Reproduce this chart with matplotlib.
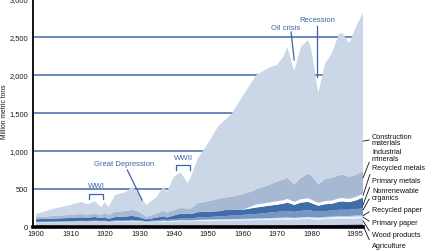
# Materials consumption in the US, 1900-1995 (stacked area)

import numpy as np
import matplotlib
matplotlib.use('Agg')
import matplotlib.pyplot as plt

plt.rcParams['font.family'] = ['Liberation Sans', 'DejaVu Sans']

# Data (million metric tons)
years = [1900, 1905, 1910, 1913, 1915, 1917, 1919, 1920, 1921, 1923, 1926, 1928,
         1930, 1932, 1935, 1937, 1938, 1940, 1942, 1944, 1945, 1947, 1950, 1953,
         1955, 1957, 1960, 1964, 1968, 1970, 1972, 1973, 1975, 1977, 1979, 1980,
         1982, 1984, 1986, 1988, 1989, 1991, 1993, 1995]

agriculture = [6, 6, 7, 7, 7, 8, 8, 8, 7, 8, 9, 9, 9, 8, 9, 10, 10, 10,
               11, 11, 11, 12, 13, 14, 15, 15, 16, 18, 20, 21, 22, 22, 22, 24, 26, 26,
               26, 28, 29, 32, 33, 34, 35, 36]
wood_products = [54, 57, 59, 61, 60, 61, 58, 60, 56, 62, 63, 64, 60, 53, 58, 62, 60, 64,
                 67, 65, 66, 69, 71, 71, 71, 72, 72, 74, 75, 76, 78, 79, 76, 79, 80, 78,
                 74, 77, 78, 80, 79, 77, 78, 80]
primary_paper = [3, 3, 4, 4, 4, 5, 5, 5, 4, 5, 5, 6, 6, 5, 6, 7, 6, 7, 8, 8, 8, 9, 10, 11,
                 12, 12, 13, 14, 16, 17, 17, 18, 16, 18, 19, 19, 18, 19, 20, 22, 22, 22,
                 24, 25]
recycled_paper = [2, 2, 2, 3, 3, 3, 3, 3, 3, 3, 3, 4, 4, 3, 4, 4, 4, 4, 5, 5, 5, 5, 5, 5,
                  5, 6, 6, 6, 7, 7, 7, 8, 7, 8, 8, 8, 8, 9, 10, 11, 11, 12, 14, 15]
nonrenewable_organics = [3, 4, 5, 6, 6, 7, 7, 8, 7, 9, 10, 11, 10, 9, 12, 14, 13, 16, 20,
                         22, 22, 32, 32, 38, 42, 46, 52, 60, 72, 78, 84, 86, 78, 84, 88,
                         84, 76, 78, 80, 82, 82, 82, 85, 88]
primary_metals = [35, 38, 42, 46, 42, 48, 36, 44, 28, 45, 48, 52, 40, 22, 34, 45, 32, 50,
                  65, 62, 58, 68, 70, 68, 78, 72, 68, 85, 92, 95, 100, 110, 92, 108, 110,
                  100, 78, 88, 90, 105, 110, 100, 115, 145]
recycled_metals = [0, 0, 0, 0, 0, 0, 0, 0, 0, 0, 0, 0, 0, 0, 0, 0, 0, 0, 0, 0, 0, 0, 0, 0,
                   0, 0, 0, 38, 42, 45, 45, 48, 40, 45, 48, 45, 38, 42, 42, 45, 45, 42,
                   45, 50]
industrial_minerals = [25, 35, 41, 43, 43, 43, 43, 57, 55, 68, 72, 79, 71, 35, 52, 73, 65,
                       74, 74, 72, 75, 120, 139, 163, 167, 177, 203, 195, 236, 257, 277,
                       284, 229, 284, 321, 320, 242, 289, 301, 303, 308, 291, 294, 291]
construction = [42, 95, 130, 160, 135, 165, 100, 145, 105, 220, 250, 305, 220, 155, 220,
                315, 270, 435, 470, 335, 415, 590, 765, 960, 1020, 1100, 1290, 1510, 1545,
                1535, 1620, 1715, 1490, 1720, 1760, 1650, 1205, 1520, 1640, 1860, 1860,
                1760, 1950, 2090]

labels = ['Agriculture', 'Wood products', 'Primary paper', 'Recycled paper',
          'Nonrenewable\norganics', 'Primary metals', 'Recycled metals',
          'Industrial\nminerals', 'Construction\nmaterials']
colors = ['#3f6aa6', '#c6d3e6', '#eef2f8', '#b3c4dc', '#7696c3',
          '#406ca8', '#ffffff', '#a6b8d2', '#cbd6e7']

blue = '#3a65a6'

fig = plt.figure(figsize=(4.28, 2.53), dpi=100)
ax = fig.add_axes([33 / 428, 25 / 253, 330 / 428, 228 / 253])

# gridlines behind the areas
for v in [500, 1000, 1500, 2000, 2500]:
    ax.axhline(v, color='#3f69a8', lw=1.1, zorder=0)

ax.stackplot(years, agriculture, wood_products, primary_paper, recycled_paper,
             nonrenewable_organics, primary_metals, recycled_metals,
             industrial_minerals, construction, colors=colors, lw=0, zorder=1)

ax.set_xlim(1899.1, 1995)
ax.set_ylim(0, 3000)
ax.set_xticks([1900, 1910, 1920, 1930, 1940, 1950, 1960, 1970, 1980, 1995])
ax.set_xticklabels(['1900', '1910', '1920', '1930', '1940', '1950', '1960',
                    '1970', '1980', '1995'])
ax.get_xticklabels()[-1].set_ha('right')
ax.set_yticks([0, 500, 1000, 1500, 2000, 2500, 3000])
ax.set_yticklabels(['0', '500', '1,000', '1,500', '2,000', '2,500', '3,000'])
ax.tick_params(axis='both', length=0, labelsize=5.4, colors='#1a1a1a')
ax.tick_params(axis='x', pad=2)
ax.tick_params(axis='y', pad=3.5)

for s in ['top', 'right']:
    ax.spines[s].set_visible(False)
ax.spines['left'].set_linewidth(1.3)
ax.spines['bottom'].set_linewidth(2.6)
ax.spines['left'].set_zorder(5)
ax.spines['bottom'].set_zorder(5)

fig.text(5 / 428, 1 - 112 / 253, 'Million metric tons', rotation=90,
         ha='center', va='center', fontsize=4.9, color='#1a1a1a')

# event annotations
fs = 5.5
ax.text(1972.4, 2620, 'Oil crisis', color=blue, fontsize=fs, ha='center', va='center')
ax.plot([1974.1, 1975.0], [2566, 2198], color=blue, lw=0.9, zorder=3)
ax.text(1981.7, 2725, 'Recession', color=blue, fontsize=fs, ha='center', va='center')
ax.plot([1981.7, 1981.7], [2645, 1974], color=blue, lw=0.9, zorder=3)
ax.text(1925.6, 830, 'Great Depression', color=blue, fontsize=fs, ha='center', va='center')
ax.plot([1926.5, 1930.8], [750, 355], color=blue, lw=0.9, zorder=3)
ax.text(1917.4, 545, 'WWI', color=blue, fontsize=5.6, ha='center', va='center')
ax.plot([1915.4, 1915.4, 1919.5, 1919.5], [368, 434, 434, 368], color=blue, lw=0.9, zorder=3)
ax.text(1942.7, 912, 'WWII', color=blue, fontsize=5.6, ha='center', va='center')
ax.plot([1940.7, 1940.7, 1944.8, 1944.8], [750, 816, 816, 750], color=blue, lw=0.9, zorder=3)

# right-hand labels with leader lines
leader_vals = [20, 80, 130, 148, 225, 290, 415, 645, 1130]
label_ypix = [247, 236, 224, 211, 195, 182, 169, 156, 140.5]
for lab, v, yp in zip(labels, leader_vals, label_ypix):
    ax.annotate(lab, xy=(1995, v), xytext=(372, 253 - yp), textcoords='figure pixels',
                ha='left', va='center', fontsize=5.25, color='#111111', linespacing=0.85,
                annotation_clip=False,
                arrowprops=dict(arrowstyle='-', lw=0.6, color='#111111',
                                shrinkA=0, shrinkB=0, relpos=(0, 0.5)))

plt.savefig('out.png', dpi=100)
